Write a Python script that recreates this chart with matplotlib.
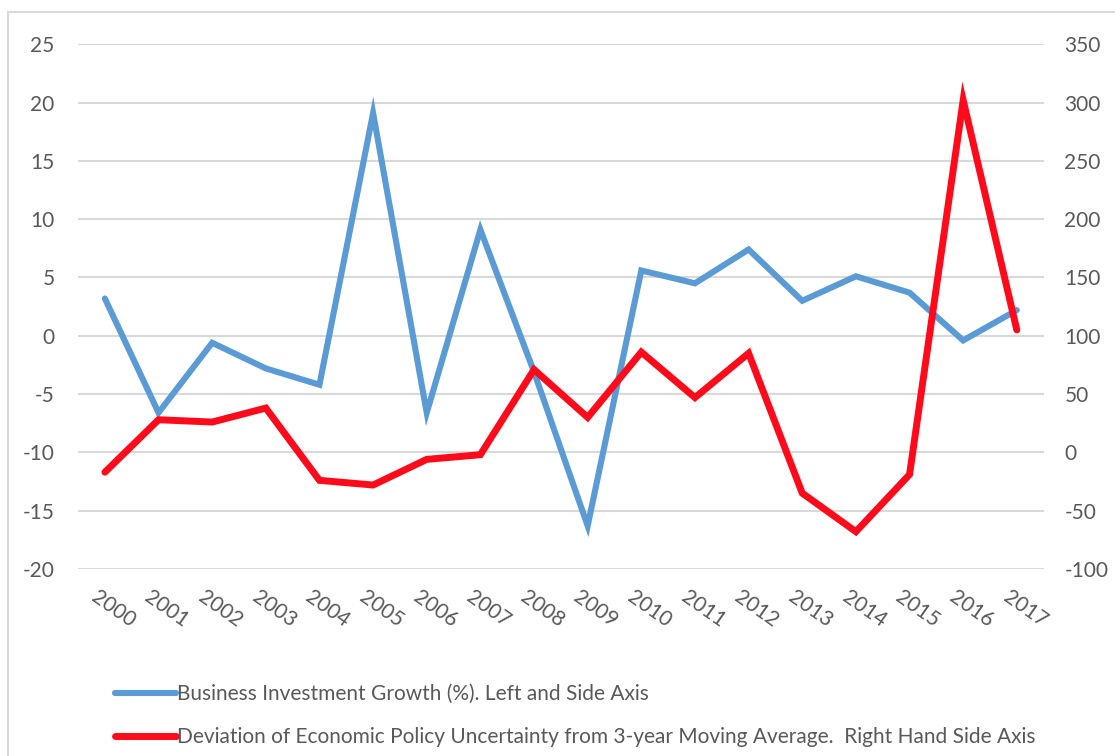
import numpy as np
import matplotlib
matplotlib.use("Agg")
import matplotlib.pyplot as plt
import matplotlib.transforms as mtransforms
from matplotlib.patches import Rectangle

# data
years = [str(y) for y in range(2000, 2018)]
invest_growth = [3.2, -6.6, -0.6, -2.8, -4.2, 19.1, -6.6, 9.1, -3.1, -16.3,
                 5.6, 4.5, 7.4, 3.0, 5.1, 3.7, -0.4, 2.2]
epu_deviation = [-17, 28, 26, 38, -24, -28, -6, -2, 71, 30,
                 86, 47, 85, -35, -68, -19, 302, 105]
left_ticks = [-20, -15, -10, -5, 0, 5, 10, 15, 20, 25]
right_ticks = [-100, -50, 0, 50, 100, 150, 200, 250, 300, 350]

label_blue = "Business Investment Growth (%). Left and Side Axis"
label_red = "Deviation of Economic Policy Uncertainty from 3-year Moving Average.  Right Hand Side Axis"

plt.rcParams['font.family'] = ['Lato', 'DejaVu Sans']
plt.rcParams['axes.unicode_minus'] = False
txt_col = '#595959'
grid_col = '#d9d9d9'

fig = plt.figure(figsize=(11.15, 7.56), dpi=100)
ax = fig.add_axes([0.070, 0.2474, 0.866, 0.694])
ax2 = ax.twinx()

# outer chart border
fig.patches.append(Rectangle((8/1115, -0.05), 1.2, 1 - 12/756 + 0.05,
                             transform=fig.transFigure, fill=False,
                             ec=grid_col, lw=1.5, zorder=0))

x = np.arange(len(years))
l1, = ax.plot(x, invest_growth, color='#5b9bd5', lw=4.4,
              solid_joinstyle='miter', solid_capstyle='round', label=label_blue)
l2, = ax2.plot(x, epu_deviation, color='#ff0a1a', lw=5.0,
               solid_joinstyle='miter', solid_capstyle='round', label=label_red)

ax.set_xlim(-0.5, len(years) - 0.5)
ax.set_ylim(-20, 25)
ax2.set_ylim(-100, 350)
ax.set_yticks(left_ticks)
ax2.set_yticks(right_ticks)
ax.yaxis.grid(True, color=grid_col, lw=1.5)
ax.set_axisbelow(True)

for a in (ax, ax2):
    for s in a.spines.values():
        s.set_visible(False)
    a.tick_params(length=0, labelsize=15, labelcolor=txt_col)
ax.tick_params(axis='y', pad=17)
ax2.tick_params(axis='y', pad=15)

ax.set_xticks(x)
ax.set_xticklabels(years)
offset = mtransforms.ScaledTranslation(-6/100, -13/100, fig.dpi_scale_trans)
for lab in ax.get_xticklabels():
    lab.set_rotation(-35)
    lab.set_rotation_mode('anchor')
    lab.set_ha('left')
    lab.set_va('top')
    lab.set_transform(lab.get_transform() + offset)

fig.legend(handles=[l1, l2], loc='upper left',
           bbox_to_anchor=(107/1115, 1 - 676/756), frameon=False,
           fontsize=15, labelcolor=txt_col, handlelength=2.9,
           handletextpad=0.08, labelspacing=1.1, borderaxespad=0)

fig.savefig('out.png', dpi=100)
